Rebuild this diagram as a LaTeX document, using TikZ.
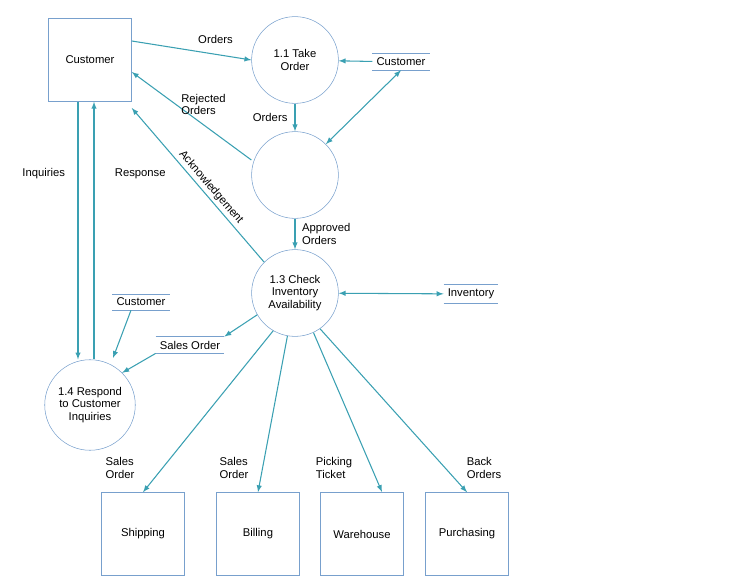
\documentclass[tikz,border=0pt]{standalone}
\usepackage{fontspec}
\setmainfont{Liberation Sans}
\usepackage{tikz}
\definecolor{flow}{RGB}{58,160,178}
\definecolor{edge}{RGB}{120,160,205}
\tikzset{
  ent/.style={draw=edge,minimum width=2.2cm,minimum height=2.2cm,align=center},
  proc/.style={draw=edge,circle,minimum size=2.3cm,align=center,inner sep=1pt},
  store/.style={align=center,inner sep=3pt},
  lbl/.style={align=left,inner sep=1pt},
  fl/.style={draw=flow,thick,-latex}
}
\newcommand{\storelines}[1]{%
  \draw[edge] (#1.north west) -- (#1.north east) (#1.south west) -- (#1.south east);}
\begin{document}
\begin{tikzpicture}[x=0.0265cm,y=-0.0265cm,font=\fontsize{8.5}{9.5}\selectfont]
    \useasboundingbox (0,0) rectangle (736,586);
    % entities
    \node[ent] (cust) at (90,60) {Customer};
    \node[ent] (ship) at (143,534) {Shipping};
    \node[ent] (bill) at (258,534) {Billing};
    \node[ent] (ware) at (362,534) {Warehouse};
    \node[ent] (purc) at (467,534) {Purchasing};
    % processes
    \node[proc] (take) at (295,60) {1.1 Take\\Order};
    \node[proc] (mid) at (295,175) {};
    \node[proc] (check) at (295,293) {1.3 Check\\Inventory\\Availability};
    \node[proc,minimum size=2.4cm] (resp) at (90,405) {1.4 Respond\\to Customer\\Inquiries};
    % stores
    \node[store,minimum width=1.35cm] (cstA) at (401,62) {Customer};
    \node[store,minimum width=1.35cm] (inv) at (471,294) {Inventory};
    \node[store,minimum width=1.35cm] (cstB) at (141,302) {Customer};
    \node[store,minimum width=1.35cm] (sord) at (190,345) {Sales Order};
    \storelines{cstA} \storelines{inv} \storelines{cstB} \storelines{sord}
    \coordinate (wareIn) at (382,492);
    % flows
    \draw[fl] (cust.east |- 0,41) -- (take.west) node[pos=0.7,above=4pt] {Orders};
    \draw[fl] (cstA) -- (take);
    \draw[fl] (take) -- (mid) node[midway,left=2pt] {Orders};
    \draw[flow,thick,latex-latex] (cstA.south) -- (mid.north east);
    \draw[fl] (mid.west |- 0,160) -- (cust.east |- 0,72) node[pos=0.4,above=6pt,lbl] {Rejected\\Orders};
    \draw[fl] (check.north west) -- (cust.east |- 0,108) node[pos=0.45,sloped,above,inner sep=2pt] {Acknowledgement};
    \draw[fl] (mid) -- (check) node[midway,right=4pt,lbl] {Approved\\Orders};
    \draw[flow,thick,latex-latex] (check) -- (inv);
    \draw[fl] (cust.south -| 78,0) -- (resp.north -| 78,0) node[pos=0.28,left=6pt] {Inquiries};
    \draw[fl] (resp.north -| 94,0) -- (cust.south -| 94,0) node[pos=0.72,right=12pt] {Response};
    \draw[fl] (cstB.south -| 131,0) -- (113,358);
    \draw[fl] (check.210) -- (sord.north east);
    \draw[fl] (sord.south west) -- (resp.north east);
    \draw[fl] (check.240) -- (ship.north);
    \draw[fl] (check.260) -- (bill.north);
    \draw[fl] (check.295) -- (wareIn);
    \draw[fl] (check.305) -- (purc.north);
    \node[lbl] (so1) at (120,468) {Sales\\Order};
    \node[lbl] (so2) at (234,468) {Sales\\Order};
    \node[lbl] (pick) at (334,468) {Picking\\Ticket};
    \node[lbl] (back) at (484,468) {Back\\Orders};
\end{tikzpicture}
\end{document}
